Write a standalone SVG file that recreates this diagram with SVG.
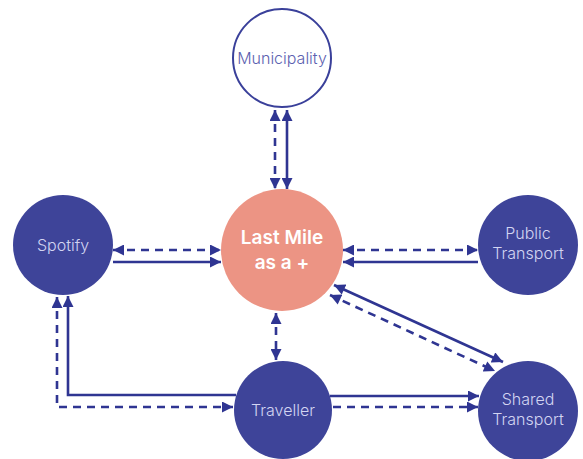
<svg xmlns="http://www.w3.org/2000/svg" width="583" height="459" viewBox="0 0 583 459">
  <style>
    .node { fill: #3e4499; }
    .hub { fill: #ec9484; }
    .open { fill: #ffffff; stroke: #3a409a; stroke-width: 2; }
    .label { font-family: Inter, "Liberation Sans", Arial, sans-serif; font-size: 16px; font-weight: 300; fill: #d3d5f2; text-anchor: middle; }
    .label-dark { font-family: Inter, "Liberation Sans", Arial, sans-serif; font-size: 16px; font-weight: 300; fill: #5c61b0; text-anchor: middle; }
    .hub-label { font-family: Inter, "Liberation Sans", Arial, sans-serif; font-size: 19px; font-weight: 600; fill: #ffffff; text-anchor: middle; }
    .link { fill: none; stroke: #2f3592; stroke-width: 2.6; }
    .dash { stroke-dasharray: 8 6; }
  </style>
  <defs>
    <marker id="head" viewBox="0 0 10 10" refX="10" refY="5" markerWidth="12" markerHeight="11" markerUnits="userSpaceOnUse" orient="auto-start-reverse">
      <path d="M0 0 L10 5 L0 10 Z" fill="#2f3592"/>
    </marker>
  </defs>

  <g id="connectors">
    <!-- Municipality <-> Last Mile -->
    <line class="link dash" x1="275" y1="110" x2="275" y2="189" marker-start="url(#head)" marker-end="url(#head)"/>
    <line class="link" x1="287" y1="110" x2="287" y2="189" marker-start="url(#head)" marker-end="url(#head)"/>
    <!-- Spotify <-> Last Mile -->
    <line class="link dash" x1="113" y1="250" x2="221" y2="250" marker-start="url(#head)" marker-end="url(#head)"/>
    <line class="link" x1="113" y1="262" x2="221" y2="262" marker-end="url(#head)"/>
    <!-- Public Transport <-> Last Mile -->
    <line class="link dash" x1="343" y1="250" x2="478" y2="250" marker-start="url(#head)" marker-end="url(#head)"/>
    <line class="link" x1="478" y1="262" x2="343" y2="262" marker-end="url(#head)"/>
    <!-- Last Mile <-> Shared Transport -->
    <line class="link" x1="334" y1="285" x2="503" y2="362" marker-start="url(#head)" marker-end="url(#head)"/>
    <line class="link dash" x1="330" y1="295" x2="495" y2="371" marker-start="url(#head)" marker-end="url(#head)"/>
    <!-- Last Mile <-> Traveller -->
    <line class="link dash" x1="276" y1="313" x2="276" y2="360" marker-start="url(#head)" marker-end="url(#head)"/>
    <!-- Traveller <-> Spotify -->
    <path class="link" d="M236 395 H68 V296" marker-end="url(#head)"/>
    <path class="link dash" d="M57 297 V407 H233" marker-start="url(#head)" marker-end="url(#head)"/>
    <!-- Traveller -> Shared Transport -->
    <line class="link" x1="330" y1="396" x2="479" y2="396" marker-end="url(#head)"/>
    <line class="link dash" x1="333" y1="407" x2="478" y2="407" marker-end="url(#head)"/>
  </g>

  <g id="municipality">
    <circle class="open" cx="282" cy="58" r="49"/>
    <text class="label-dark" x="282" y="64">Municipality</text>
  </g>

  <g id="last-mile">
    <circle class="hub" cx="282" cy="250" r="61"/>
    <text class="hub-label" x="282" y="244">Last Mile</text>
    <text class="hub-label" x="282" y="269">as a +</text>
  </g>

  <g id="spotify">
    <circle class="node" cx="63" cy="245" r="50"/>
    <text class="label" x="63" y="251">Spotify</text>
  </g>

  <g id="public-transport">
    <circle class="node" cx="528" cy="245" r="50"/>
    <text class="label" x="528" y="239">Public</text>
    <text class="label" x="528" y="259">Transport</text>
  </g>

  <g id="traveller">
    <circle class="node" cx="283" cy="410" r="49"/>
    <text class="label" x="283" y="416">Traveller</text>
  </g>

  <g id="shared-transport">
    <circle class="node" cx="528" cy="411" r="50"/>
    <text class="label" x="528" y="405">Shared</text>
    <text class="label" x="528" y="425">Transport</text>
  </g>
</svg>
